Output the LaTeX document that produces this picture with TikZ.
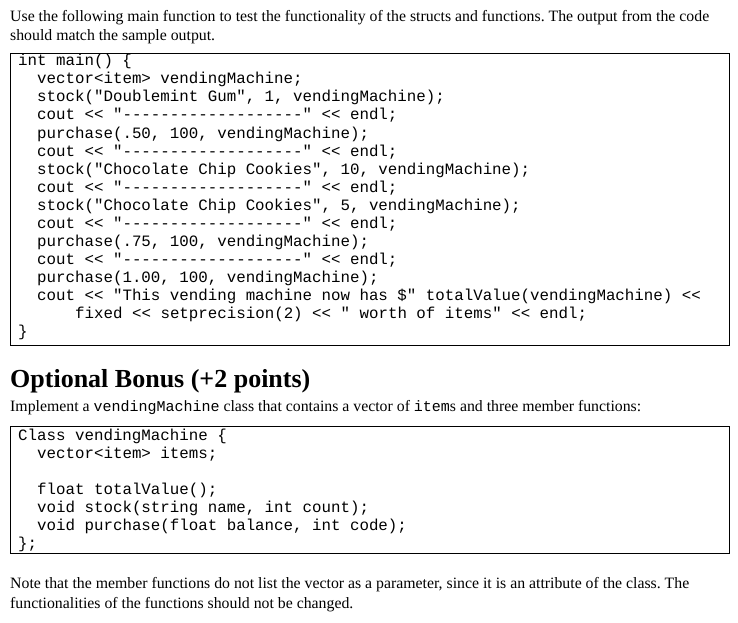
\documentclass[tikz,border=0pt]{standalone}
\usepackage{fontspec}
\setmainfont{Liberation Serif}
\newfontfamily\cm{Liberation Mono}
\begin{document}
\frenchspacing
\begin{tikzpicture}[x=1pt,y=-1pt,
  tx/.style={anchor=base west,inner sep=0pt,font=\fontsize{15.8}{18}\selectfont},
  cd/.style={anchor=base west,inner sep=0pt,font=\cm\fontsize{15.8}{18}\selectfont},
  bx/.style={draw=black,line width=0.8pt}]
\useasboundingbox[fill=white] (0,0) rectangle (738,623);
\node[tx] (t1) at (10,22) {Use the following main function to test the functionality of the structs and functions. The output from the code};
\node[tx] (t2) at (10,41) {should match the sample output.};
\draw[bx] (10,53) rectangle (729,345);
\node[cd] (c1) at (18,66) {int main() \{};
\node[cd] (c2) at (37,84) {vector<item> vendingMachine;};
\node[cd] (c3) at (37,102) {stock("Doublemint Gum", 1, vendingMachine);};
\node[cd] (c4) at (37,120) {cout << "-------------------" << endl;};
\node[cd] (c5) at (37,138) {purchase(.50, 100, vendingMachine);};
\node[cd] (c6) at (37,156) {cout << "-------------------" << endl;};
\node[cd] (c7) at (37,174) {stock("Chocolate Chip Cookies", 10, vendingMachine);};
\node[cd] (c8) at (37,192) {cout << "-------------------" << endl;};
\node[cd] (c9) at (37,210) {stock("Chocolate Chip Cookies", 5, vendingMachine);};
\node[cd] (c10) at (37,228) {cout << "-------------------" << endl;};
\node[cd] (c11) at (37,246) {purchase(.75, 100, vendingMachine);};
\node[cd] (c12) at (37,264) {cout << "-------------------" << endl;};
\node[cd] (c13) at (37,282) {purchase(1.00, 100, vendingMachine);};
\node[cd] (c14) at (37,300) {cout << "This vending machine now has \$" totalValue(vendingMachine) <<};
\node[cd] (c15) at (75,318) {fixed << setprecision(2) << " worth of items" << endl;};
\node[cd] (c16) at (18,336) {\}};
\node[anchor=base west,inner sep=0pt,font=\bfseries\fontsize{26}{30}\selectfont] (h) at (10,387) {Optional Bonus (+2 points)};
\node[tx] (t3) at (10,411) {Implement a {\cm\fontsize{15}{18}\selectfont vendingMachine} class that contains a vector of {\cm\fontsize{15}{18}\selectfont item}s and three member functions:};
\draw[bx] (10,426) rectangle (729,553);
\node[cd] (d1) at (18,440) {Class vendingMachine \{};
\node[cd] (d2) at (37,458) {vector<item> items;};
\node[cd] (d3) at (37,494) {float totalValue();};
\node[cd] (d4) at (37,512) {void stock(string name, int count);};
\node[cd] (d5) at (37,530) {void purchase(float balance, int code);};
\node[cd] (d6) at (18,548) {\};};
\node[tx] (t4) at (10,588) {Note that the member functions do not list the vector as a parameter, since it is an attribute of the class. The};
\node[tx] (t5) at (10,608) {functionalities of the functions should not be changed.};
\end{tikzpicture}
\end{document}
